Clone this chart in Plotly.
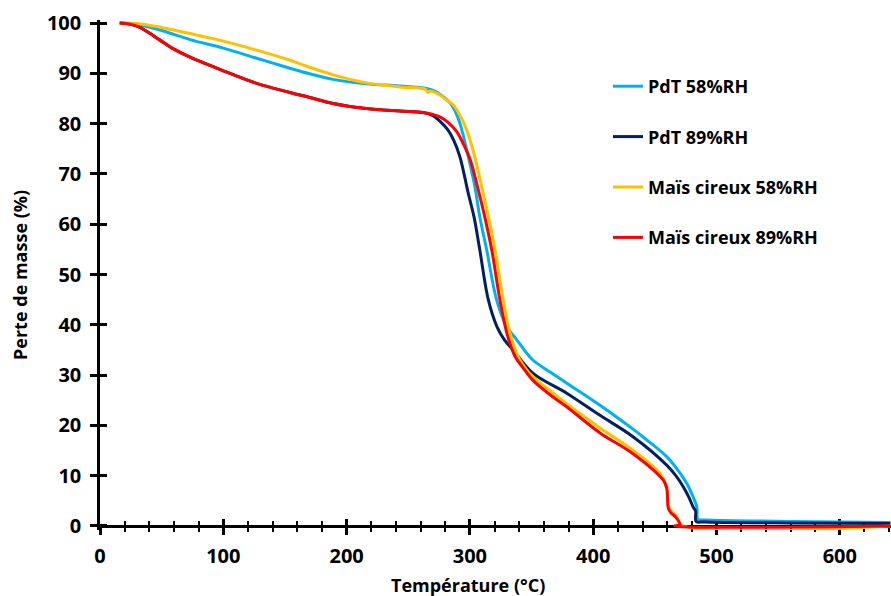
import plotly.graph_objects as go

# Thermogravimetric curves: mass (%) versus temperature (°C)
pdt58_t = [16, 24, 32, 50, 73, 100, 127, 154, 170, 189, 216, 243, 265, 272, 278, 284, 288, 292,
           298.7, 304, 308, 313.6, 321.7, 330, 338, 345, 351, 365, 378.5, 405.5, 432, 442, 459.6,
           469, 475.8, 481, 484, 485, 490, 560, 641]
pdt58_m = [100, 99.9, 99.6, 98.5, 96.7, 95.0, 93.0, 91.0, 89.9, 88.8, 87.9, 87.5, 87.0, 86.4, 85.4, 84.1, 82.5, 80.0,
           73.4, 67.5, 61.5, 54.9, 44.9, 39.6, 37.0, 34.7, 33.0, 30.6, 28.4, 24.0, 19.3, 17.4, 13.8,
           11.0, 8.5, 5.8, 3.8, 1.3, 1.2, 0.9, 0.7]

pdt89_t = [16, 24, 32, 40, 48.7, 60, 73, 100, 127, 154, 170, 189, 216, 243, 262, 270, 276, 282, 287,
           292, 298.7, 303.3, 308, 315, 322, 328, 335, 351, 378.5, 405.5, 432, 459.6, 467, 473,
           478, 481, 483, 483.5, 490, 560, 641]
pdt89_m = [100, 99.8, 99.2, 98.0, 96.6, 94.8, 93.2, 90.5, 88.0, 86.2, 85.2, 84.0, 83.0, 82.5, 82.2, 81.6, 80.4, 78.8, 76.6,
           73.3, 66.1, 61.5, 54.9, 44.9, 39.6, 37.0, 35.0, 30.4, 26.4, 22.0, 17.8, 12.1, 10.0, 7.8,
           5.5, 3.8, 3.0, 0.9, 0.8, 0.6, 0.5]

mais58_t = [16, 30, 46, 73, 100, 127, 154, 170, 189, 216, 243, 264, 266, 268, 275, 281, 286.5,
            292, 297.4, 304, 309.5, 315, 320.4, 327, 332.5, 339, 345, 351, 365, 378.5, 405.5, 432,
            454, 459.6, 461, 464, 467.6, 471.6, 641]
mais58_m = [100, 99.9, 99.3, 97.9, 96.4, 94.6, 92.6, 91.2, 89.7, 88.1, 87.3, 86.8, 86.2, 86.5, 85.8, 84.7, 83.7,
            81.6, 78.7, 73.4, 67.5, 61.5, 54.9, 44.9, 38.3, 33.7, 31.4, 29.7, 26.9, 24.3, 19.5, 15.1,
            10.5, 7.8, 3.8, 2.8, 1.9, 0.2, 0.0]

mais89_t = [16, 24, 32, 40, 48.7, 60, 73, 100, 127, 154, 170, 189, 216, 243, 262, 270, 276, 282, 289,
            294, 300, 306.8, 312, 317.7, 324.4, 330, 336.6, 343, 351, 365, 378.5, 405.5, 432, 456.8,
            459.6, 461, 463, 466.3, 470.4, 466, 641]
mais89_m = [100, 99.8, 99.2, 98.0, 96.6, 94.8, 93.2, 90.5, 88.0, 86.2, 85.2, 84.0, 83.0, 82.5, 82.2, 81.8, 81.3, 80.3, 78.5,
            76.3, 73.0, 66.8, 61.5, 54.9, 44.9, 38.3, 33.7, 31.5, 29.0, 26.1, 23.7, 18.5, 14.4, 9.1,
            7.5, 3.5, 2.6, 1.9, 0.3, 0.0, 0.0]

series = [
    ("PdT 58%RH", pdt58_t, pdt58_m, "#00B0F0"),
    ("PdT 89%RH", pdt89_t, pdt89_m, "#002060"),
    ("Maïs cireux 58%RH", mais58_t, mais58_m, "#FFC000"),
    ("Maïs cireux 89%RH", mais89_t, mais89_m, "#FF0000"),
]

x_ticks = [0, 100, 200, 300, 400, 500, 600]
y_ticks = [0, 10, 20, 30, 40, 50, 60, 70, 80, 90, 100]

W, H = 891, 596
L, R, T, B = 100, 0, 20, 66
plot_w = W - L - R
plot_h = H - T - B
x_range = [0, 641.5]
y_range = [-0.8, 100.6]
x_pos = (0 - y_range[0]) / (y_range[1] - y_range[0])

FONT = "Open Sans"
tick_font = dict(family=FONT, size=20, color="black", weight="bold")
title_font = dict(family=FONT, size=18, color="black", weight="bold")

fig = go.Figure()

# empty helper traces so that the overlay axes (tick marks only) get drawn
for xa, ya in [("x2", "y"), ("x3", "y"), ("x4", "y"), ("x", "y2")]:
    fig.add_trace(go.Scatter(x=[None], y=[None], xaxis=xa, yaxis=ya, mode="lines",
                             showlegend=False, hoverinfo="skip"))

for name, t, m, color in series:
    fig.add_trace(go.Scatter(
        x=t, y=m, name=name, mode="lines", legendgroup=name,
        line=dict(color=color, width=3, shape="spline", smoothing=1.0),
    ))

base = dict(showgrid=False, zeroline=False, linecolor="black", tickcolor="black",
            layer="below traces")


def x_overlay(ticks, ticklen, tickwidth, **kw):
    # extra x axis on the same scale, used only to draw tick marks crossing the axis line
    return dict(range=x_range, overlaying="x", anchor="free", position=x_pos, showline=False,
                showticklabels=False, ticks=ticks, ticklen=ticklen, tickwidth=tickwidth,
                **base, **kw)


fig.update_layout(
    width=W, height=H,
    margin=dict(l=L, r=R, t=T, b=B, pad=0),
    paper_bgcolor="white", plot_bgcolor="white",
    showlegend=True,
    legend=dict(
        x=(608 - L) / plot_w, y=(H - B - 68) / plot_h, xanchor="left", yanchor="top",
        bgcolor="rgba(0,0,0,0)", font=dict(family=FONT, size=18, color="black", weight="bold"),
        tracegroupgap=24, itemwidth=30,
    ),
    # main x axis: line, major ticks below the line and labels
    xaxis=dict(
        range=x_range, anchor="free", position=x_pos, showline=True, linewidth=2.5,
        ticks="outside", ticklen=7, tickwidth=2.5, tickvals=x_ticks,
        ticktext=[str(v) for v in x_ticks], tickfont=tick_font, ticklabelstandoff=4, **base,
    ),
    xaxis2=x_overlay("inside", 7, 2.5, tickvals=x_ticks),
    xaxis3=x_overlay("outside", 5, 2, tickmode="linear", tick0=0, dtick=20),
    xaxis4=x_overlay("inside", 5, 2, tickmode="linear", tick0=0, dtick=20),
    yaxis=dict(
        range=y_range, showline=True, linewidth=2.5, ticks="outside", ticklen=7, tickwidth=2.5,
        tickvals=y_ticks, ticktext=[str(v) for v in y_ticks], tickfont=tick_font,
        ticklabelstandoff=5, **base,
    ),
    yaxis2=dict(
        range=y_range, overlaying="y", anchor="x", showline=False, ticks="inside", ticklen=7,
        tickwidth=2.5, tickvals=y_ticks, showticklabels=False, **base,
    ),
    annotations=[
        dict(text="Température (°C)", x=(468 - L) / plot_w, y=(H - B - 585) / plot_h,
             xref="paper", yref="paper", showarrow=False, xanchor="center", yanchor="middle",
             font=title_font),
        dict(text="Perte de masse (%)", x=(20 - L) / plot_w, y=0.5, textangle=-90,
             xref="paper", yref="paper", showarrow=False, xanchor="center", yanchor="middle",
             font=title_font),
    ],
)

fig.write_html("out.html")
